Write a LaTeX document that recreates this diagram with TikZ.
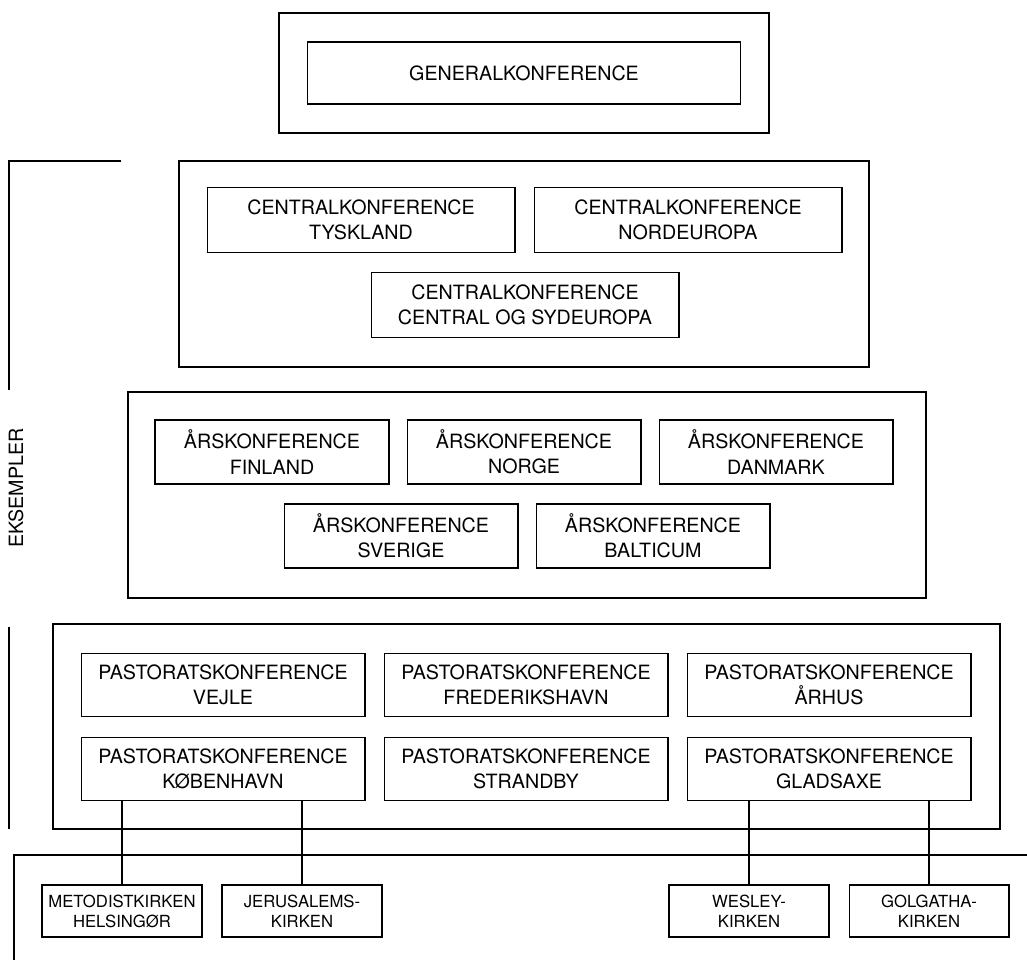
\documentclass[tikz,border=0pt]{standalone}
\usepackage{fontspec}
\setmainfont{TeX Gyre Heros}
\usetikzlibrary{calc}

\begin{document}
\begin{tikzpicture}[x=0.02cm, y=-0.02cm,
    frame/.style={line width=1.1pt},
    bracket/.style={line width=0.9pt},
    konf/.style={draw, line width=0.6pt, align=center, inner sep=0pt,
        font=\fontsize{11.2}{14.4}\selectfont},
    kirke/.style={draw, line width=0.6pt, align=center, inner sep=0pt,
        minimum width=3.2cm, minimum height=1.04cm,
        font=\fontsize{9.5}{11.4}\selectfont}]

    % Fix the page size
    \useasboundingbox (0,0) rectangle (1027,960);

    % Box sizes for each level
    \def\cw{6.16cm}
    \def\aw{4.68cm}
    \def\pw{5.68cm}

    % Draw the generalkonference
    \draw[frame] (279,13) rectangle (769,133);
    \node[konf, minimum width=8.68cm, minimum height=1.24cm] (general) at (524,73) {GENERALKONFERENCE};

    % Draw the centralkonferencer
    \draw[frame] (179,161) rectangle (869,367);
    \node[konf, minimum width=\cw, minimum height=1.3cm] (tyskland) at (361,220) {CENTRALKONFERENCE\\TYSKLAND};
    \node[konf, minimum width=\cw, minimum height=1.3cm] (nordeuropa) at (688,220) {CENTRALKONFERENCE\\NORDEUROPA};
    \node[konf, minimum width=\cw, minimum height=1.3cm] (sydeuropa) at (525,305) {CENTRALKONFERENCE\\CENTRAL OG SYDEUROPA};

    % Draw the årskonferencer
    \draw[frame] (128,392) rectangle (926,598);
    \node[konf, minimum width=\aw, minimum height=1.28cm] (finland) at (272,452) {ÅRSKONFERENCE\\FINLAND};
    \node[konf, minimum width=\aw, minimum height=1.28cm] (norge) at (524,452) {ÅRSKONFERENCE\\NORGE};
    \node[konf, minimum width=\aw, minimum height=1.28cm] (danmark) at (776,452) {ÅRSKONFERENCE\\DANMARK};
    \node[konf, minimum width=\aw, minimum height=1.28cm] (sverige) at (401,536) {ÅRSKONFERENCE\\SVERIGE};
    \node[konf, minimum width=\aw, minimum height=1.28cm] (balticum) at (653,536) {ÅRSKONFERENCE\\BALTICUM};

    % Draw the pastoratskonferencer
    \draw[frame] (53,624) rectangle (1000,829);
    \node[konf, minimum width=\pw, minimum height=1.26cm] (vejle) at (223,685) {PASTORATSKONFERENCE\\VEJLE};
    \node[konf, minimum width=\pw, minimum height=1.26cm] (frederikshavn) at (526,685) {PASTORATSKONFERENCE\\FREDERIKSHAVN};
    \node[konf, minimum width=\pw, minimum height=1.26cm] (aarhus) at (829,685) {PASTORATSKONFERENCE\\ÅRHUS};
    \node[konf, minimum width=\pw, minimum height=1.26cm] (koebenhavn) at (223,769) {PASTORATSKONFERENCE\\KØBENHAVN};
    \node[konf, minimum width=\pw, minimum height=1.26cm] (strandby) at (526,769) {PASTORATSKONFERENCE\\STRANDBY};
    \node[konf, minimum width=\pw, minimum height=1.26cm] (gladsaxe) at (829,769) {PASTORATSKONFERENCE\\GLADSAXE};

    % Draw the local churches
    \node[kirke] (helsingoer) at (122,911) {METODISTKIRKEN\\HELSINGØR};
    \node[kirke] (jerusalem) at (302,911) {JERUSALEMS-\\KIRKEN};
    \node[kirke] (wesley) at (749,911) {WESLEY-\\KIRKEN};
    \node[kirke] (golgatha) at (929,911) {GOLGATHA-\\KIRKEN};

    % Connect churches to their pastorat
    \draw[line width=0.6pt] (helsingoer.north) -- (helsingoer.north |- koebenhavn.south);
    \draw[line width=0.6pt] (jerusalem.north) -- (jerusalem.north |- koebenhavn.south);
    \draw[line width=0.6pt] (wesley.north) -- (wesley.north |- gladsaxe.south);
    \draw[line width=0.6pt] (golgatha.north) -- (golgatha.north |- gladsaxe.south);

    % Draw the brackets and the label
    \draw[bracket] (121,161) -- (9,161) -- (9,390);
    \draw[bracket] (9,627) -- (9,829);
    \draw[bracket] (1027,855) -- (14,855) -- (14,960);
    \node[rotate=90, font=\fontsize{11.2}{14.4}\selectfont] (eksempler) at (16,488) {EKSEMPLER};

\end{tikzpicture}
\end{document}
